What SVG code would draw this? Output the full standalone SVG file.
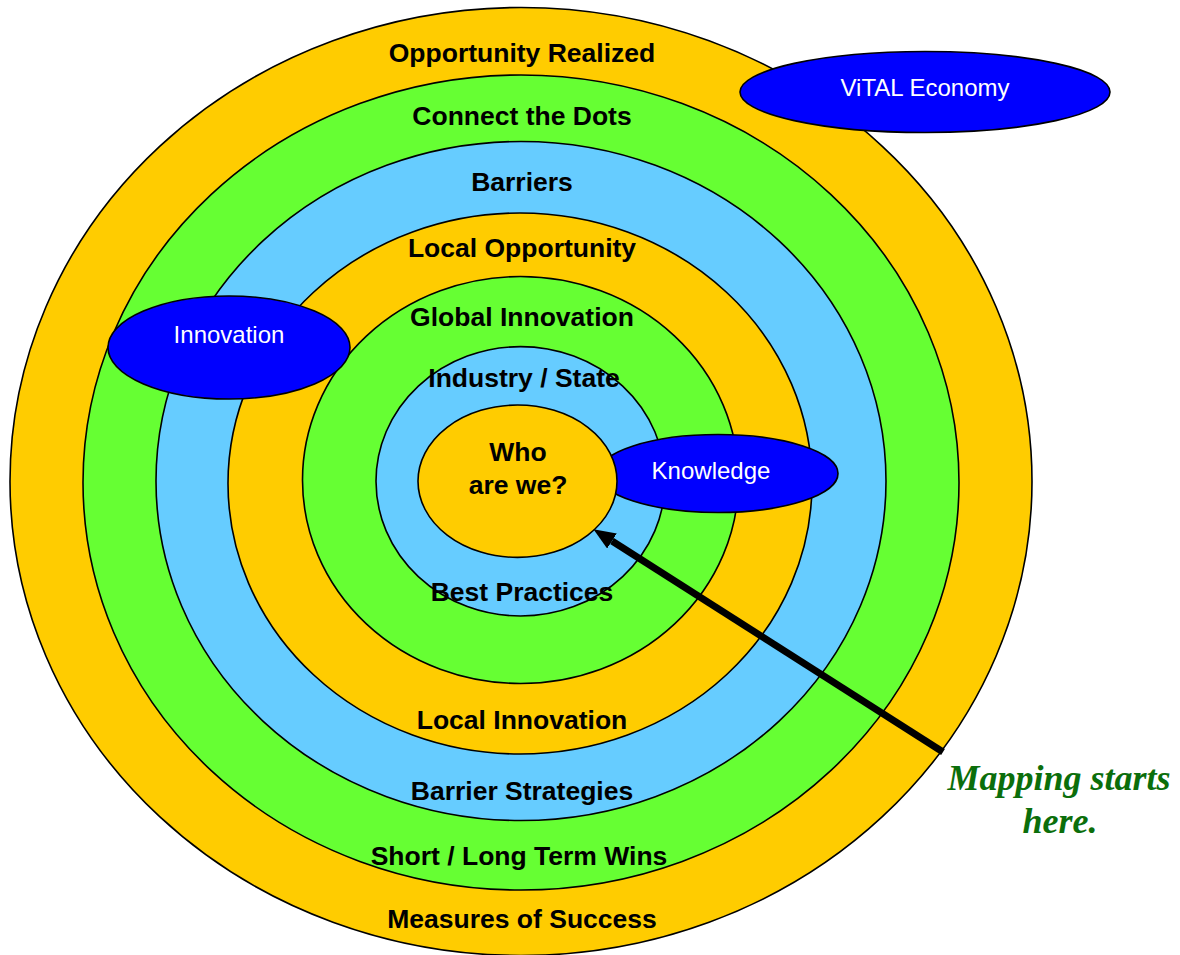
<svg xmlns="http://www.w3.org/2000/svg" width="1180" height="955" viewBox="0 0 1180 955">
<defs>
<style>
.ring{stroke:#000;stroke-width:1.6}
.y{fill:#FFCC00}.g{fill:#66FF33}.b{fill:#66CCFF}
.call{fill:#0000FF;stroke:#000;stroke-width:1.6}
.lbl{font-family:"Liberation Sans",Arial,sans-serif;font-weight:bold;font-size:26.5px;fill:#000;text-anchor:middle}
.ct{font-family:"Liberation Sans",Arial,sans-serif;font-size:24px;fill:#fff;text-anchor:middle}
.map{font-family:"Liberation Serif","Times New Roman",serif;font-weight:bold;font-style:italic;font-size:36px;fill:#0B6E0B;text-anchor:middle}
</style>
<marker id="ah" markerUnits="userSpaceOnUse" markerWidth="22" markerHeight="18" refX="0" refY="9" orient="auto" viewBox="0 0 22 18">
<path d="M0,0 L22,9 L0,18 z" fill="#000"/>
</marker>
</defs>
<rect width="1180" height="955" fill="#fff"/>
<g id="ring-opportunity">
<ellipse class="ring y" cx="521" cy="481.5" rx="511" ry="474"/>
<text class="lbl" x="522" y="62">Opportunity Realized</text>
<text class="lbl" x="522" y="928">Measures of Success</text>
</g>
<g id="ring-connect">
<ellipse class="ring g" cx="521" cy="482.5" rx="438" ry="407.5"/>
<text class="lbl" x="522" y="125">Connect the Dots</text>
<text class="lbl" x="519" y="865">Short / Long Term Wins</text>
</g>
<g id="ring-barriers">
<ellipse class="ring b" cx="521" cy="481" rx="365" ry="339.5"/>
<text class="lbl" x="522" y="191">Barriers</text>
<text class="lbl" x="522" y="800">Barrier Strategies</text>
</g>
<g id="ring-local">
<ellipse class="ring y" cx="520" cy="483.5" rx="292" ry="270.5"/>
<text class="lbl" x="522" y="257">Local Opportunity</text>
<text class="lbl" x="522" y="729">Local Innovation</text>
</g>
<g id="ring-global">
<ellipse class="ring g" cx="520.5" cy="480" rx="218" ry="203.5"/>
<text class="lbl" x="522" y="326">Global Innovation</text>
</g>
<g id="ring-industry">
<ellipse class="ring b" cx="520.5" cy="481.3" rx="144.5" ry="134.7"/>
<text class="lbl" x="524" y="387">Industry / State</text>
<text class="lbl" x="522" y="601">Best Practices</text>
</g>
<g id="node-innovation">
<ellipse class="call" cx="229" cy="347.5" rx="121" ry="51.5"/>
<text class="ct" x="229" y="343">Innovation</text>
</g>
<g id="node-vital">
<ellipse class="call" cx="925" cy="92" rx="185" ry="40.5"/>
<text class="ct" x="925" y="96">ViTAL Economy</text>
</g>
<g id="node-knowledge">
<ellipse class="call" cx="718" cy="473.5" rx="120" ry="39"/>
<text class="ct" x="711" y="479">Knowledge</text>
</g>
<g id="node-who">
<ellipse class="ring y" cx="517.5" cy="481.2" rx="99.5" ry="76.2"/>
<text class="lbl" x="518" y="461">Who</text>
<text class="lbl" x="518" y="494">are we?</text>
</g>
<g id="connectors">
<line x1="943" y1="752" x2="612" y2="541" stroke="#000" stroke-width="7" marker-end="url(#ah)"/>
</g>
<g id="label-mapping">
<text class="map" x="1059" y="790">Mapping starts</text>
<text class="map" x="1060" y="833">here.</text>
</g>
</svg>
